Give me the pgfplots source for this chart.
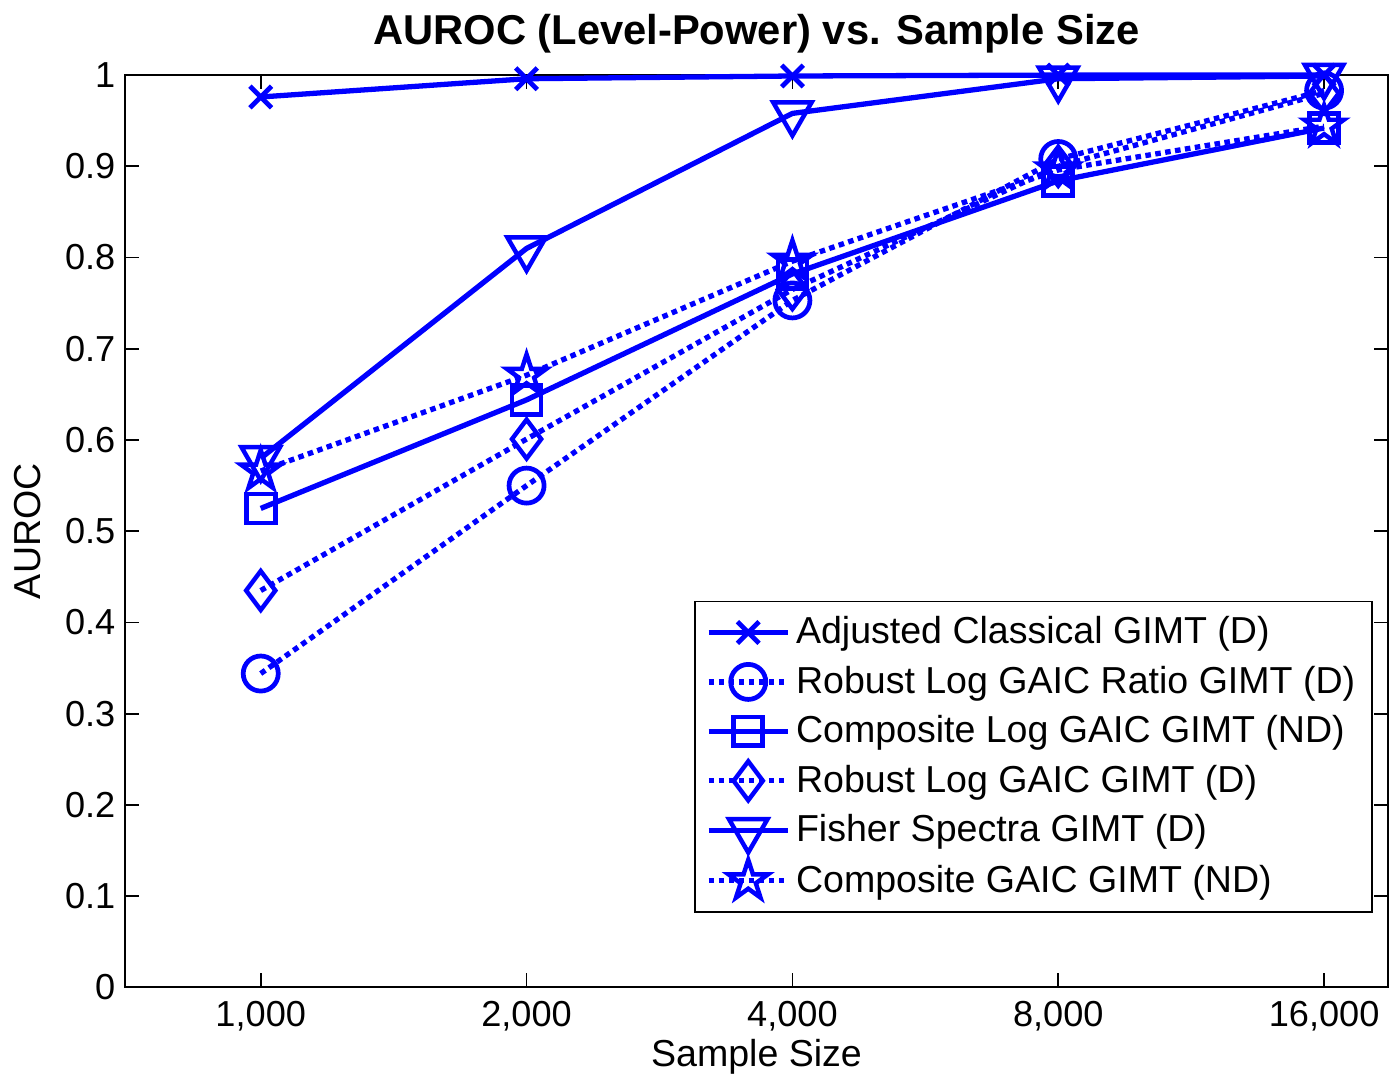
\documentclass[border=0pt]{standalone}
\usepackage{pgfplots}
\pgfplotsset{compat=1.18}
\usepackage{fontspec}
\setmainfont{Liberation Sans}
\usetikzlibrary{plotmarks}
\definecolor{mblue}{RGB}{0,0,255}
\pgfdeclareplotmark{pentagram}{%
  \pgfpathmoveto{\pgfpointpolar{90}{\pgfplotmarksize}}%
  \pgfpathlineto{\pgfpointpolar{126}{0.382\pgfplotmarksize}}%
  \pgfpathlineto{\pgfpointpolar{162}{\pgfplotmarksize}}%
  \pgfpathlineto{\pgfpointpolar{198}{0.382\pgfplotmarksize}}%
  \pgfpathlineto{\pgfpointpolar{234}{\pgfplotmarksize}}%
  \pgfpathlineto{\pgfpointpolar{270}{0.382\pgfplotmarksize}}%
  \pgfpathlineto{\pgfpointpolar{306}{\pgfplotmarksize}}%
  \pgfpathlineto{\pgfpointpolar{342}{0.382\pgfplotmarksize}}%
  \pgfpathlineto{\pgfpointpolar{18}{\pgfplotmarksize}}%
  \pgfpathlineto{\pgfpointpolar{54}{0.382\pgfplotmarksize}}%
  \pgfpathclose
  \pgfusepathqstroke
}
\begin{document}
\begin{tikzpicture}
\begin{axis}[
  name=ax,
  scale only axis,
  width=454pt, height=328pt,
  xmin=-0.51, xmax=4.24,
  ymin=0, ymax=1,
  xtick={0,1,2,3,4},
  xticklabels={1{,}000,2{,}000,4{,}000,8{,}000,16{,}000},
  ytick={0,0.1,0.2,0.3,0.4,0.5,0.6,0.7,0.8,0.9,1},
  yticklabels={0,0.1,0.2,0.3,0.4,0.5,0.6,0.7,0.8,0.9,1},
  tick align=inside,
  major tick length=5pt,
  tick style={black, line width=0.6pt},
  axis line style={black, line width=0.8pt},
  tick label style={font=\fontsize{13}{15}\selectfont},
  xticklabel style={yshift=-1.5pt},
  /pgf/number format/assume math mode=true,
  xlabel={Sample Size},
  ylabel={AUROC},
  label style={font=\fontsize{13.5}{15}\selectfont},
  xlabel style={yshift=4pt},
  ylabel style={yshift=2pt},
  title={\bfseries AUROC (Level-Power) vs. Sample Size},
  title style={font=\fontsize{15}{17}\selectfont, yshift=-1.5pt},
  legend style={at={(0.988,0.082)}, anchor=south east, draw=black, line width=0.6pt,
    font=\fontsize{13.5}{15}\selectfont, row sep=2.5pt, inner xsep=4pt, inner ysep=3.5pt},
  legend cell align=left,
  legend image code/.code={\draw[mark repeat=2,mark phase=2,#1] plot coordinates {(0cm,0cm) (0.5cm,0cm) (1cm,0cm)};},
  clip=false,
]
\addplot[mblue, solid, line width=1.9pt, mark=x, mark size=5.5pt, mark options={solid, line width=1.7pt}]
  coordinates {(0,0.976) (1,0.996) (2,0.999) (3,1.0) (4,1.0)};
\addlegendentry{Adjusted Classical GIMT (D)}
\addplot[mblue, line width=1.9pt, line cap=butt, dash pattern=on 2pt off 1.6pt, mark=o, mark size=6.3pt, mark options={solid, line width=1.7pt}]
  coordinates {(0,0.344) (1,0.550) (2,0.753) (3,0.908) (4,0.983)};
\addlegendentry{Robust Log GAIC Ratio GIMT (D)}
\addplot[mblue, solid, line width=1.9pt, mark=square, mark size=5.2pt, mark options={solid, line width=1.7pt}]
  coordinates {(0,0.525) (1,0.644) (2,0.782) (3,0.884) (4,0.942)};
\addlegendentry{Composite Log GAIC GIMT (ND)}
\addplot[mblue, line width=1.9pt, line cap=butt, dash pattern=on 2pt off 1.6pt, mark=diamond, mark size=7pt, mark options={solid, line width=1.6pt}]
  coordinates {(0,0.435) (1,0.601) (2,0.765) (3,0.900) (4,0.980)};
\addlegendentry{Robust Log GAIC GIMT (D)}
\addplot[mblue, solid, line width=1.9pt, mark=triangle, mark size=8pt, mark options={solid, rotate=180, line width=1.6pt}]
  coordinates {(0,0.580) (1,0.810) (2,0.958) (3,0.996) (4,0.999)};
\addlegendentry{Fisher Spectra GIMT (D)}
\addplot[mblue, line width=1.9pt, line cap=butt, dash pattern=on 2pt off 1.6pt, mark=pentagram, mark size=7.5pt, mark options={solid, line width=1.6pt}]
  coordinates {(0,0.566) (1,0.671) (2,0.796) (3,0.896) (4,0.944)};
\addlegendentry{Composite GAIC GIMT (ND)}
\end{axis}
\path (ax.south west) ++(-45pt,-33.1pt) (ax.north east) ++(0.4pt,27pt);
\end{tikzpicture}
\end{document}
